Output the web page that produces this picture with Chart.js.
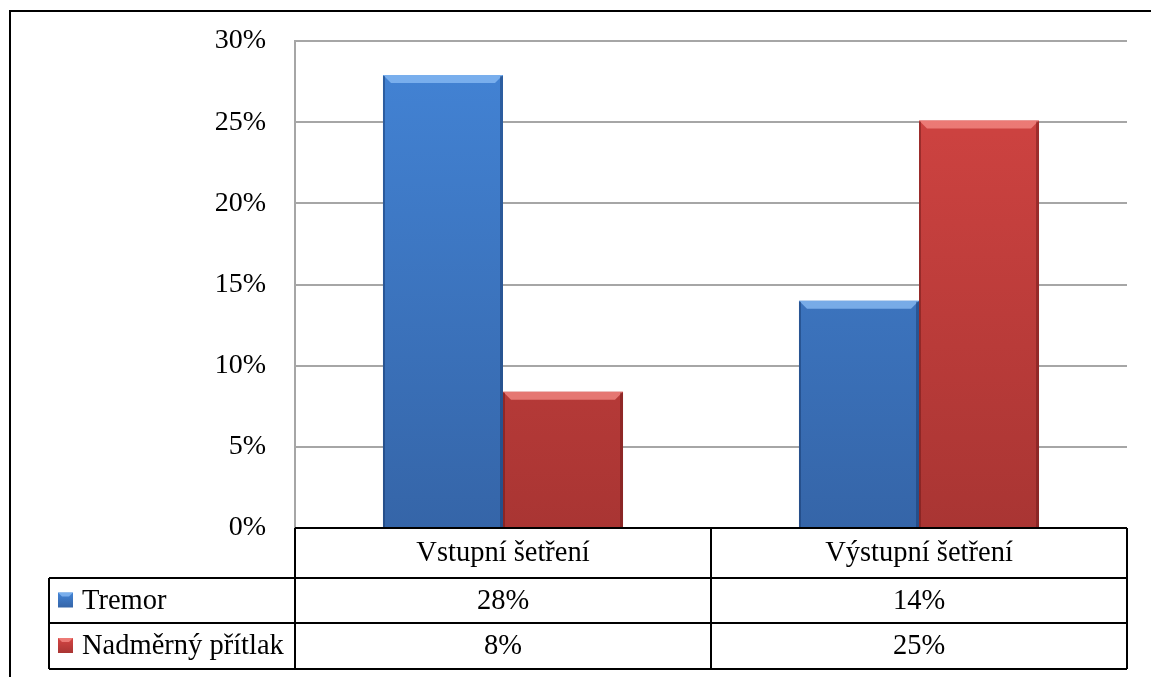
<!DOCTYPE html>
<html>
<head>
<meta charset="utf-8">
<script src="https://cdn.jsdelivr.net/npm/chart.js@4.4.1/dist/chart.umd.min.js"></script>
<style>
html, body { margin: 0; padding: 0; background: #fff; overflow: hidden; }
#frame { position: absolute; left: 9px; top: 10px; width: 1300px; height: 800px; border: 2px solid #000; }
#wrap { position: absolute; left: 0; top: 0; width: 1151px; height: 677px; }
</style>
</head>
<body>
<div id="frame"></div>
<div id="wrap"><canvas id="myChart"></canvas></div>
<script>
// data
const categories = ['Vstupní šetření', 'Výstupní šetření'];
const seriesNames = ['Tremor', 'Nadměrný přítlak'];
const tremor = [27.9, 14.0];
const pritlak = [8.4, 25.1];
const tremorLabels = ['28%', '14%'];
const pritlakLabels = ['8%', '25%'];
const yMax = 30;
const yStep = 5;

const FONT = '"Liberation Serif", "Times New Roman", serif';
const palette = [
    { top: '#4384d6', bottom: '#3565a8', light: 'rgba(140,190,245,0.75)', dark: 'rgba(20,50,100,0.45)' },
    { top: '#d44543', bottom: '#a93533', light: 'rgba(245,140,135,0.75)', dark: 'rgba(100,20,20,0.45)' }
];

function gradientFor(i) {
    return function (c) {
        const area = c.chart.chartArea;
        if (!area) return palette[i].top;
        const g = c.chart.ctx.createLinearGradient(0, area.top, 0, area.bottom);
        g.addColorStop(0, palette[i].top);
        g.addColorStop(1, palette[i].bottom);
        return g;
    };
}

// bevel look on the bars, using the bar elements the library laid out
const bevelPlugin = {
    id: 'bevel',
    afterDatasetsDraw(chart) {
        const ctx = chart.ctx;
        chart.data.datasets.forEach((ds, i) => {
            chart.getDatasetMeta(i).data.forEach(bar => {
                const l = bar.x - bar.width / 2, r = bar.x + bar.width / 2;
                const t = bar.y, b = bar.base, e = 8;
                ctx.save();
                ctx.fillStyle = palette[i].light;
                ctx.beginPath();
                ctx.moveTo(l, t); ctx.lineTo(r, t); ctx.lineTo(r - e, t + e); ctx.lineTo(l + e, t + e);
                ctx.closePath(); ctx.fill();
                ctx.fillStyle = palette[i].dark;
                ctx.fillRect(l, t + 1, 2, b - t - 1);
                ctx.fillRect(r - 3, t + 1, 3, b - t - 1);
                ctx.restore();
            });
        });
    }
};

function drawKey(ctx, x, y, i) {
    const s = 15;
    const g = ctx.createLinearGradient(0, y, 0, y + s);
    g.addColorStop(0, palette[i].top);
    g.addColorStop(1, palette[i].bottom);
    ctx.fillStyle = g;
    ctx.fillRect(x, y, s, s);
    ctx.fillStyle = palette[i].light;
    ctx.beginPath();
    ctx.moveTo(x, y); ctx.lineTo(x + s, y); ctx.lineTo(x + s - 4, y + 4); ctx.lineTo(x + 4, y + 4);
    ctx.closePath(); ctx.fill();
}

// Excel style data table under the plot
const tablePlugin = {
    id: 'dataTable',
    afterDraw(chart) {
        const ctx = chart.ctx;
        const xs = chart.scales.x;
        const area = chart.chartArea;
        const step = xs.width / categories.length;
        const top = area.bottom, head = top + 50, r1 = head + 45, r2 = r1 + 46;
        const legLeft = 49;
        const line = (x1, y1, x2, y2) => { ctx.beginPath(); ctx.moveTo(x1, y1); ctx.lineTo(x2, y2); ctx.stroke(); };

        ctx.save();
        ctx.strokeStyle = '#000';
        ctx.lineWidth = 2;
        line(area.left, top, area.right, top);
        line(legLeft, head, area.right, head);
        line(legLeft, r1, area.right, r1);
        line(legLeft, r2, area.right, r2);
        line(legLeft, head, legLeft, r2);
        for (let k = 0; k <= categories.length; k++) {
            const x = area.left + k * step;
            line(x, top, x, r2);
        }

        ctx.fillStyle = '#000';
        ctx.font = '28.5px ' + FONT;
        ctx.textAlign = 'center';
        ctx.textBaseline = 'middle';
        const rows = [tremorLabels, pritlakLabels];
        categories.forEach((c, k) => {
            const cx = xs.getPixelForValue(k);
            ctx.fillText(c, cx, (top + head) / 2 + 1);
            ctx.fillText(rows[0][k], cx, (head + r1) / 2 + 1);
            ctx.fillText(rows[1][k], cx, (r1 + r2) / 2 + 1);
        });

        ctx.textAlign = 'left';
        [[head, r1], [r1, r2]].forEach((rr, i) => {
            const cy = (rr[0] + rr[1]) / 2;
            drawKey(ctx, legLeft + 9, cy - 8, i);
            ctx.fillStyle = '#000';
            ctx.fillText(seriesNames[i], legLeft + 33, cy + 1);
        });
        ctx.restore();
    }
};

const ctx = document.getElementById('myChart').getContext('2d');
window.myChart = new Chart(ctx, {
    type: 'bar',
    data: {
        labels: categories,
        datasets: [
            { label: seriesNames[0], data: tremor, backgroundColor: gradientFor(0), borderWidth: 0 },
            { label: seriesNames[1], data: pritlak, backgroundColor: gradientFor(1), borderWidth: 0 }
        ]
    },
    options: {
        responsive: true,
        maintainAspectRatio: false,
        animation: false,
        devicePixelRatio: 1,
        datasets: { bar: { categoryPercentage: 0.577, barPercentage: 1.0 } },
        layout: { padding: { top: 41, bottom: 149, left: 0, right: 24 } },
        plugins: { legend: { display: false }, tooltip: { enabled: false } },
        scales: {
            x: { display: false },
            y: {
                min: 0,
                max: yMax,
                afterFit: s => { s.width = 295; s.paddingTop = 0; s.paddingBottom = 0; },
                ticks: {
                    stepSize: yStep,
                    padding: 29,
                    color: '#000',
                    font: { family: FONT, size: 28 },
                    callback: v => v + '%'
                },
                grid: { color: '#a6a6a6', lineWidth: 2, drawTicks: false },
                border: { color: '#a6a6a6', width: 2 }
            }
        }
    },
    plugins: [bevelPlugin, tablePlugin]
});
</script>
</body>
</html>
